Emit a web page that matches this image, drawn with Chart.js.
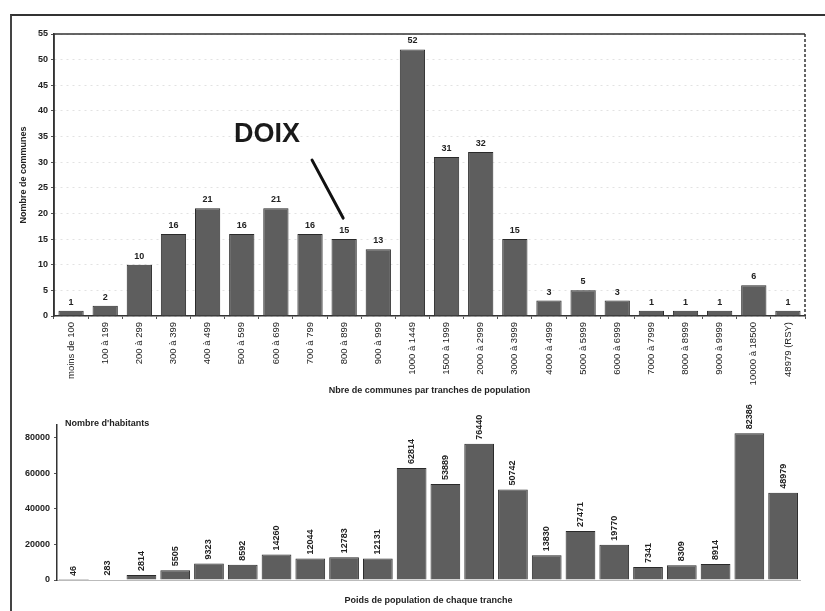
<!DOCTYPE html>
<html>
<head>
<meta charset="utf-8">
<script src="https://cdn.jsdelivr.net/npm/chart.js@4.4.1/dist/chart.umd.min.js"></script>
<style>
  html, body { margin: 0; padding: 0; background: #fff; }
  body { width: 825px; height: 611px; position: relative; overflow: hidden; }
  .frame { position: absolute; left: 10px; top: 14px; width: 830px; height: 610px;
           border-top: 2px solid #333; border-left: 2px solid #444; }
  #topWrap { position: absolute; left: 0; top: 0; width: 825px; height: 402px; }
  #bottomWrap { position: absolute; left: 0; top: 402px; width: 825px; height: 209px; }
</style>
</head>
<body>
<div class="frame"></div>
<div id="topWrap"><canvas id="communesChart"></canvas></div>
<div id="bottomWrap"><canvas id="habitantsChart"></canvas></div>
<script>
const TRANCHES = [
  "moins de 100", "100 à 199", "200 à 299", "300 à 399", "400 à 499",
  "500 à 599", "600 à 699", "700 à 799", "800 à 899", "900 à 999",
  "1000 à 1449", "1500 à 1999", "2000 à 2999", "3000 à 3999", "4000 à 4999",
  "5000 à 5999", "6000 à 6999", "7000 à 7999", "8000 à 8999", "9000 à 9999",
  "10000 à 18500", "48979 (RSY)",
];
const NB_COMMUNES = [1, 2, 10, 16, 21, 16, 21, 16, 15, 13, 52, 31, 32, 15, 3, 5, 3, 1, 1, 1, 6, 1];
const NB_HABITANTS = [
  46, 283, 2814, 5505, 9323, 8592, 14260, 12044, 12783, 12131,
  62814, 53889, 76440, 50742, 13830, 27471, 19770, 7341, 8309, 8914,
  82386, 48979,
];
const COMMUNES_TICKS = [0, 5, 10, 15, 20, 25, 30, 35, 40, 45, 50, 55];
const HABITANTS_TICKS = [0, 20000, 40000, 60000, 80000];

const FONT = "'Liberation Sans', Arial, sans-serif";
const BAR_FILL = "#5e5e5e";
const BAR_EDGE = "#2a2a2a";
const INK = "#222";

// label "DOIX" with its arrow, placed in (category index, value) units
const DOIX_TEXT_AT = { x: 5.74, y: 35.3 };
const DOIX_ARROW = { from: { x: 7.06, y: 30.4 }, to: { x: 7.97, y: 19.1 } };

Chart.defaults.font.family = FONT;
Chart.defaults.color = INK;
Chart.defaults.animation = false;

function frameBox(color) {
  return {
    id: "frameBox",
    beforeDatasetsDraw(chart) {
      const { ctx, chartArea: a } = chart;
      ctx.save();
      ctx.strokeStyle = color;
      ctx.lineWidth = 1.5;
      ctx.beginPath();
      ctx.moveTo(a.left, a.bottom);
      ctx.lineTo(a.left, a.top);
      ctx.lineTo(a.right, a.top);
      ctx.stroke();
      ctx.setLineDash([3, 2]);
      ctx.beginPath();
      ctx.moveTo(a.right, a.top);
      ctx.lineTo(a.right, a.bottom);
      ctx.stroke();
      ctx.restore();
    },
  };
}

const topValueLabels = {
  id: "topValueLabels",
  afterDatasetsDraw(chart) {
    const { ctx } = chart;
    const meta = chart.getDatasetMeta(0);
    ctx.save();
    ctx.font = `bold 9px ${FONT}`;
    ctx.fillStyle = INK;
    ctx.textAlign = "center";
    ctx.textBaseline = "bottom";
    meta.data.forEach((bar, i) => {
      ctx.fillText(String(NB_COMMUNES[i]), bar.x, bar.y - 4);
    });
    ctx.restore();
  },
};

const doixNote = {
  id: "doixNote",
  afterDatasetsDraw(chart) {
    const { ctx, scales } = chart;
    const px = (p) => [scales.x.getPixelForValue(p.x), scales.y.getPixelForValue(p.y)];
    const [tx, ty] = px(DOIX_TEXT_AT);
    const [fx, fy] = px(DOIX_ARROW.from);
    const [ex, ey] = px(DOIX_ARROW.to);
    ctx.save();
    ctx.font = `bold 27px ${FONT}`;
    ctx.fillStyle = "#1a1a1a";
    ctx.textAlign = "center";
    ctx.textBaseline = "middle";
    ctx.fillText("DOIX", tx, ty);
    ctx.strokeStyle = "#111";
    ctx.lineWidth = 3;
    ctx.lineCap = "round";
    ctx.beginPath();
    ctx.moveTo(fx, fy);
    ctx.lineTo(ex, ey);
    ctx.stroke();
    ctx.restore();
  },
};

const bottomValueLabels = {
  id: "bottomValueLabels",
  afterDatasetsDraw(chart) {
    const { ctx } = chart;
    const meta = chart.getDatasetMeta(0);
    ctx.save();
    ctx.font = `bold 9px ${FONT}`;
    ctx.fillStyle = INK;
    ctx.textAlign = "left";
    ctx.textBaseline = "middle";
    meta.data.forEach((bar, i) => {
      ctx.save();
      ctx.translate(bar.x, bar.y - 4);
      ctx.rotate(-Math.PI / 2);
      ctx.fillText(String(NB_HABITANTS[i]), 0, 0);
      ctx.restore();
    });
    ctx.restore();
  },
};

const habitantsHeading = {
  id: "habitantsHeading",
  afterDraw(chart) {
    const { ctx, chartArea: a } = chart;
    ctx.save();
    ctx.font = `bold 9px ${FONT}`;
    ctx.fillStyle = INK;
    ctx.textAlign = "left";
    ctx.textBaseline = "middle";
    ctx.fillText("Nombre d'habitants", a.left + 8, a.top - 1);
    ctx.restore();
  },
};

new Chart(document.getElementById("communesChart"), {
  type: "bar",
  data: {
    labels: TRANCHES,
    datasets: [
      {
        label: "Nombre de communes",
        data: NB_COMMUNES,
        backgroundColor: BAR_FILL,
        borderColor: BAR_EDGE,
        borderWidth: 1,
        barPercentage: 0.74,
        categoryPercentage: 1,
      },
    ],
  },
  options: {
    responsive: true,
    maintainAspectRatio: false,
    layout: { padding: { left: 18, right: 20, top: 34, bottom: 2 } },
    plugins: { legend: { display: false }, tooltip: { enabled: false } },
    scales: {
      x: {
        grid: { display: true, drawOnChartArea: false, tickLength: 3, color: "#555" },
        border: { color: "#333", width: 1.5 },
        ticks: {
          autoSkip: false,
          minRotation: 90,
          maxRotation: 90,
          padding: 3,
          font: { size: 9.5 },
          color: INK,
        },
        title: {
          display: true,
          text: "Nbre de communes par tranches de population",
          font: { size: 9, weight: "bold" },
          padding: { top: 2, bottom: 4 },
        },
        afterFit(scale) { scale.height = 84; },
      },
      y: {
        min: 0,
        max: 55,
        afterBuildTicks(scale) { scale.ticks = COMMUNES_TICKS.map((value) => ({ value })); },
        grid: { color: "#e2e2e2", tickLength: 3, tickColor: "#555" },
        border: { color: "#333", width: 1.5, dash: [2, 4] },
        ticks: { font: { size: 9, weight: "bold" }, color: INK, padding: 3 },
        title: {
          display: true,
          text: "Nombre de communes",
          font: { size: 9, weight: "bold" },
          padding: { top: 0, bottom: 2 },
        },
        afterFit(scale) { scale.width = 36; },
      },
    },
  },
  plugins: [frameBox("#333"), topValueLabels, doixNote],
});

new Chart(document.getElementById("habitantsChart"), {
  type: "bar",
  data: {
    labels: TRANCHES,
    datasets: [
      {
        label: "Nombre d'habitants",
        data: NB_HABITANTS,
        backgroundColor: BAR_FILL,
        borderColor: BAR_EDGE,
        borderWidth: 1,
        barPercentage: 0.88,
        categoryPercentage: 1,
      },
    ],
  },
  options: {
    responsive: true,
    maintainAspectRatio: false,
    layout: { padding: { left: 18, right: 25, top: 23, bottom: 2 } },
    plugins: { legend: { display: false }, tooltip: { enabled: false } },
    scales: {
      x: {
        grid: { display: false },
        border: { color: "#bbb", width: 1, dash: [2, 3] },
        ticks: { display: false },
        title: {
          display: true,
          text: "Poids de population de chaque tranche",
          font: { size: 9, weight: "bold" },
          padding: { top: 2, bottom: 3 },
        },
        afterFit(scale) { scale.height = 29; },
      },
      y: {
        min: 0,
        max: 87000,
        afterBuildTicks(scale) { scale.ticks = HABITANTS_TICKS.map((value) => ({ value })); },
        grid: { display: true, drawOnChartArea: false, tickLength: 3, color: "#555" },
        border: { color: "#333", width: 1.5 },
        ticks: {
          font: { size: 9, weight: "bold" },
          color: INK,
          padding: 4,
          callback: (value) => String(value),
        },
        afterFit(scale) { scale.width = 39; },
      },
    },
  },
  plugins: [bottomValueLabels, habitantsHeading],
});
</script>
</body>
</html>
